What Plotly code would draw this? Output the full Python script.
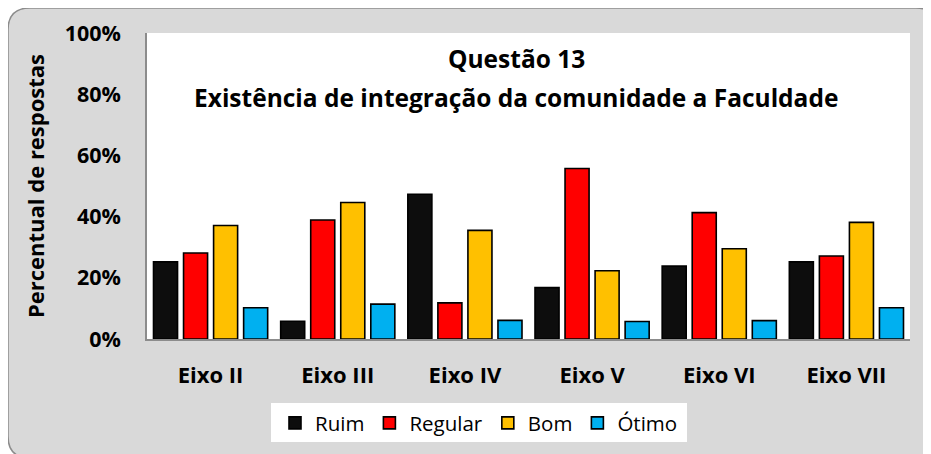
import plotly.graph_objects as go

categories = ["Eixo II", "Eixo III", "Eixo IV", "Eixo V", "Eixo VI", "Eixo VII"]
ruim = [25.2, 5.8, 47.3, 16.8, 23.8, 25.2]
regular = [28.1, 38.9, 11.8, 55.7, 41.3, 27.1]
bom = [37.1, 44.6, 35.5, 22.3, 29.5, 38.1]
otimo = [10.2, 11.4, 6.1, 5.7, 6.0, 10.2]
y_ticks = [0, 20, 40, 60, 80, 100]
y_tick_labels = ["0%", "20%", "40%", "60%", "80%", "100%"]

series = [("Ruim", ruim, "#0d0d0d"), ("Regular", regular, "#ff0000"),
          ("Bom", bom, "#ffc000"), ("Ótimo", otimo, "#00b0f0")]

OFF = 8  # page body margin
W, H = 923, 446
# plot area in screen pixels: x 147..910, y 33..339
L, R, T, B = 147 - OFF, W - (910 - OFF), 33 - OFF, H - (339 - OFF)
pw, ph = W - L - R, H - T - B

def px(x):  # screen x -> paper
    return (x - OFF - L) / pw

def py(y):  # screen y -> paper
    return (H - B - (y - OFF)) / ph

FONT = "Open Sans"

fig = go.Figure()
for name, vals, color in series:
    fig.add_trace(go.Bar(x=categories, y=vals, name=name,
                         marker=dict(color=color, line=dict(color="#000000", width=1.6))))

# rounded outer frame (screen coords)
x0, y0, x1, y1, r = 8, 8, 938, 458, 22
path = (f"M {px(x0+r)},{py(y0)} L {px(x1-r)},{py(y0)} Q {px(x1)},{py(y0)} {px(x1)},{py(y0+r)} "
        f"L {px(x1)},{py(y1-r)} Q {px(x1)},{py(y1)} {px(x1-r)},{py(y1)} "
        f"L {px(x0+r)},{py(y1)} Q {px(x0)},{py(y1)} {px(x0)},{py(y1-r)} "
        f"L {px(x0)},{py(y0+r)} Q {px(x0)},{py(y0)} {px(x0+r)},{py(y0)} Z")
shapes = [
    dict(type="path", path=path, xref="paper", yref="paper", layer="below",
         fillcolor="#d9d9d9", line=dict(color="#8c8c8c", width=1.5)),
    dict(type="rect", xref="paper", yref="paper", x0=0, x1=1, y0=0, y1=1, layer="below",
         fillcolor="#ffffff", line=dict(width=0)),
    dict(type="rect", xref="paper", yref="paper", x0=px(271), x1=px(687), y0=py(442), y1=py(403),
         layer="below", fillcolor="#ffffff", line=dict(width=0)),
]

fig.update_layout(
    width=W, height=H,
    margin=dict(l=L, r=R, t=T, b=B, autoexpand=False),
    paper_bgcolor="#ffffff", plot_bgcolor="#ffffff",
    barmode="group", bargap=0.055, bargroupgap=0.2,
    shapes=shapes,
    font=dict(family=FONT, color="#000000"),
    showlegend=True,
    legend=dict(orientation="h", x=px(479), xanchor="center", y=py(403), yanchor="top",
                bgcolor="rgba(0,0,0,0)", font=dict(family=FONT, size=20.5),
                itemwidth=30, traceorder="normal"),
    annotations=[
        dict(text="<b>Questão 13</b>", x=px(516), y=py(58), xref="paper", yref="paper",
             showarrow=False, font=dict(family=FONT, size=24.5), xanchor="center", yanchor="middle"),
        dict(text="<b>Existência de integração da comunidade a Faculdade</b>", x=px(516), y=py(97),
             xref="paper", yref="paper", showarrow=False, font=dict(family=FONT, size=24.5),
             xanchor="center", yanchor="middle"),
    ],
)
fig.update_xaxes(showline=True, linecolor="#8c8c8c", linewidth=2, ticks="outside", ticklen=16,
                 tickcolor="rgba(0,0,0,0)", tickfont=dict(family=FONT, size=22, weight="bold"),
                 showgrid=False)
fig.update_yaxes(range=[0, 100], tickvals=y_ticks, ticktext=y_tick_labels, showline=True,
                 linecolor="#8c8c8c", linewidth=1.5, ticks="outside", ticklen=20,
                 tickcolor="rgba(0,0,0,0)", tickfont=dict(family=FONT, size=21.5, weight="bold"),
                 showgrid=False, zeroline=False,
                 title=dict(text="Percentual de respostas", font=dict(family=FONT, size=22, weight="bold"),
                            standoff=14))
fig.write_html("out.html")
